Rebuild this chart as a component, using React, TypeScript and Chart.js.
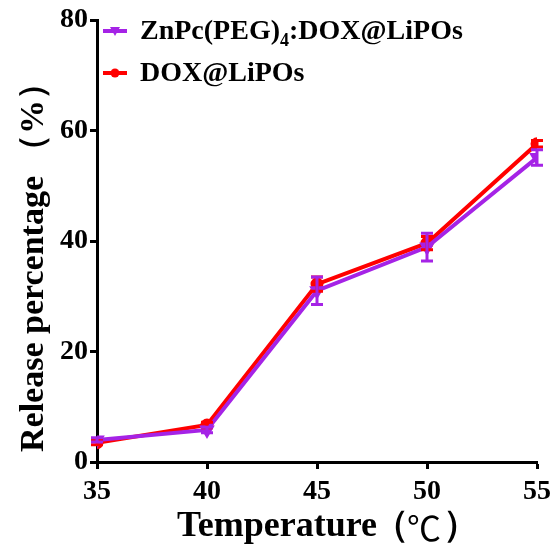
import React, { useEffect, useRef } from "react";
import { Chart, registerables } from "chart.js";

Chart.register(...registerables);

const temperatures = [35, 40, 45, 50, 55];
const znpcValues = [4.0, 5.8, 31.0, 38.9, 55.1];
const znpcErrors = [0.4, 0.5, 2.5, 2.5, 1.4];
const doxValues = [3.5, 6.7, 32.2, 39.6, 57.6];
const doxErrors = [0.4, 0.5, 1.3, 1.2, 0.6];
const yTicks = [0, 20, 40, 60, 80];
const xTicks = [35, 40, 45, 50, 55];
const xTitle = ["Temperature", "（", "℃", "）"];
const yTitle = ["Release percentage", "（%）"];

const PURPLE = "#A523E6";
const RED = "#FF0000";
const FONT = "'Liberation Serif', 'Times New Roman', serif";

const errorBarPlugin = {
  id: "errorBars",
  afterDatasetsDraw(chart: any) {
    const ctx = chart.ctx;
    const xs = chart.scales.x;
    const ys = chart.scales.y;
    const sets = [
      { vals: doxValues, errs: doxErrors, color: RED },
      { vals: znpcValues, errs: znpcErrors, color: PURPLE },
    ];
    ctx.save();
    sets.forEach((s) => {
      ctx.strokeStyle = s.color;
      ctx.lineWidth = 3;
      temperatures.forEach((t, i) => {
        const px = xs.getPixelForValue(t);
        const top = ys.getPixelForValue(s.vals[i] + s.errs[i]);
        const bot = ys.getPixelForValue(s.vals[i] - s.errs[i]);
        ctx.beginPath();
        ctx.moveTo(px, top);
        ctx.lineTo(px, bot);
        ctx.moveTo(px - 6, top);
        ctx.lineTo(px + 6, top);
        ctx.moveTo(px - 6, bot);
        ctx.lineTo(px + 6, bot);
        ctx.stroke();
      });
    });
    ctx.restore();
  },
};

const titlesPlugin = {
  id: "axisTitles",
  afterDraw(chart: any) {
    const ctx = chart.ctx;
    ctx.save();
    ctx.fillStyle = "#000";
    ctx.textBaseline = "middle";
    ctx.textAlign = "left";
    // x title
    const bold = `bold 36px ${FONT}`;
    ctx.font = bold;
    let x = 177;
    ctx.fillText(xTitle[0], x, 527);
    x += ctx.measureText(xTitle[0]).width - 4;
    ctx.fillText(xTitle[1], x, 527);
    x += ctx.measureText(xTitle[1]).width - 2;
    ctx.font = `34px 'Noto Sans CJK SC', sans-serif`;
    ctx.fillText(xTitle[2], x, 528);
    x += ctx.measureText(xTitle[2]).width + 2;
    ctx.font = bold;
    ctx.fillText(xTitle[3], x, 527);
    // y title
    ctx.translate(34, 452);
    ctx.rotate(-Math.PI / 2);
    ctx.font = `bold 34px ${FONT}`;
    ctx.fillText(yTitle[0], 0, 0);
    const w = ctx.measureText(yTitle[0]).width;
    ctx.fillText(yTitle[1], w + 8, 0);
    ctx.restore();
  },
};

const legendPlugin = {
  id: "customLegend",
  afterDraw(chart: any) {
    const ctx = chart.ctx;
    const area = chart.chartArea;
    const x0 = area.left + 6;
    const rows = [
      { y: area.top + 11, color: PURPLE, style: "tri" },
      { y: area.top + 53, color: RED, style: "circle" },
    ];
    ctx.save();
    rows.forEach((r) => {
      ctx.strokeStyle = r.color;
      ctx.fillStyle = r.color;
      ctx.lineWidth = 4;
      ctx.beginPath();
      ctx.moveTo(x0, r.y);
      ctx.lineTo(x0 + 24, r.y);
      ctx.stroke();
      const cx = x0 + 12;
      ctx.beginPath();
      if (r.style === "tri") {
        ctx.moveTo(cx - 5, r.y - 4);
        ctx.lineTo(cx + 5, r.y - 4);
        ctx.lineTo(cx, r.y + 5);
        ctx.closePath();
      } else {
        ctx.arc(cx, r.y, 4.5, 0, Math.PI * 2);
      }
      ctx.fill();
    });
    ctx.fillStyle = "#000";
    ctx.textBaseline = "middle";
    ctx.textAlign = "left";
    const tx = area.left + 43;
    ctx.font = `bold 28px ${FONT}`;
    let x = tx;
    const y1 = rows[0].y + 1;
    ctx.fillText("ZnPc(PEG)", x, y1);
    x += ctx.measureText("ZnPc(PEG)").width;
    ctx.font = `bold 18px ${FONT}`;
    ctx.fillText("4", x, y1 + 9);
    x += ctx.measureText("4").width;
    ctx.font = `bold 28px ${FONT}`;
    ctx.fillText(":DOX@LiPOs", x, y1);
    ctx.fillText("DOX@LiPOs", tx, rows[1].y + 1);
    ctx.restore();
  },
};

export default function App() {
  const ref = useRef<HTMLCanvasElement>(null);
  useEffect(() => {
    document.body.style.margin = "0";
    const chart = new Chart(ref.current!, {
      type: "line",
      data: {
        datasets: [
          {
            label: "ZnPc(PEG)4:DOX@LiPOs",
            data: temperatures.map((t, i) => ({ x: t, y: znpcValues[i] })),
            borderColor: PURPLE,
            backgroundColor: PURPLE,
            borderWidth: 4,
            pointStyle: "triangle",
            rotation: 180,
            pointRadius: 5,
            tension: 0,
          },
          {
            label: "DOX@LiPOs",
            data: temperatures.map((t, i) => ({ x: t, y: doxValues[i] })),
            borderColor: RED,
            backgroundColor: RED,
            borderWidth: 4,
            pointStyle: "circle",
            pointRadius: 4.5,
            tension: 0,
          },
        ],
      },
      options: {
        animation: false,
        responsive: false,
        layout: { padding: { top: 20, right: 18, left: 0, bottom: 0 } },
        plugins: { legend: { display: false }, tooltip: { enabled: false } },
        scales: {
          x: {
            type: "linear",
            min: 35,
            max: 55,
            afterBuildTicks: (s: any) => {
              s.ticks = xTicks.map((v) => ({ value: v }));
            },
            afterFit: (s: any) => {
              s.height = 94;
            },
            border: { color: "#000", width: 3 },
            grid: {
              drawOnChartArea: false,
              drawTicks: true,
              tickLength: 7,
              tickWidth: 3,
              tickColor: "#000",
            },
            ticks: {
              color: "#000",
              font: { family: FONT, size: 28, weight: "bold" },
              padding: 6,
              maxRotation: 0,
            },
          },
          y: {
            type: "linear",
            min: 0,
            max: 80,
            afterBuildTicks: (s: any) => {
              s.ticks = yTicks.map((v) => ({ value: v }));
            },
            afterFit: (s: any) => {
              s.width = 97;
            },
            border: { color: "#000", width: 3 },
            grid: {
              drawOnChartArea: false,
              drawTicks: true,
              tickLength: 7,
              tickWidth: 3,
              tickColor: "#000",
            },
            ticks: {
              color: "#000",
              font: { family: FONT, size: 28, weight: "bold" },
              padding: 2,
            },
          },
        },
      },
      plugins: [errorBarPlugin, legendPlugin, titlesPlugin],
    } as any);
    return () => chart.destroy();
  }, []);
  return (
    <div style={{ width: 557, height: 556 }}>
      <canvas ref={ref} width={557} height={556} style={{ width: 557, height: 556 }} />
    </div>
  );
}
